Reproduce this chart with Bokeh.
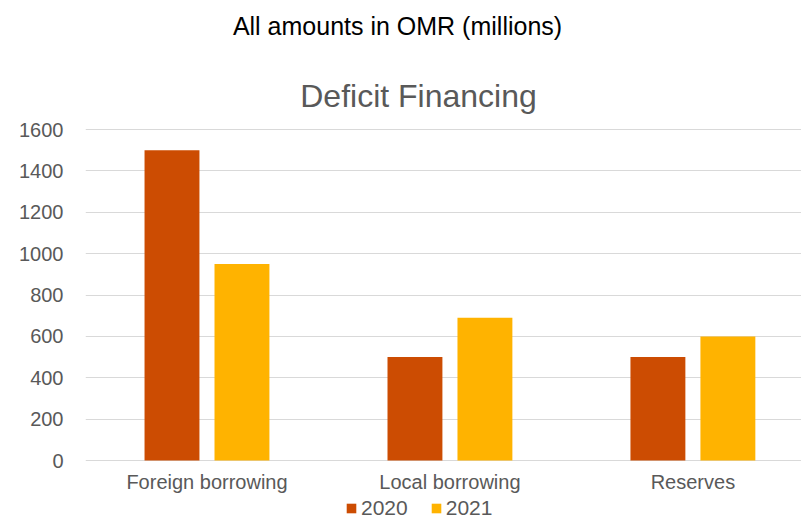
from bokeh.plotting import figure
from bokeh.models import (ColumnDataSource, Range1d, FixedTicker, Legend, LegendItem, Label)
from bokeh.transform import dodge
from bokeh.core.properties import value
from bokeh.embed import file_html
from bokeh.resources import INLINE

categories = ["Foreign borrowing", "Local borrowing", "Reserves"]
values_2020 = [1500, 500, 500]
values_2021 = [950, 690, 600]
series_names = ["2020", "2021"]
y_ticks = [0, 200, 400, 600, 800, 1000, 1200, 1400, 1600]

FONT = "Liberation Sans"
GRAY = "#595959"
C2020 = "#CC4C02"
C2021 = "#FFB300"

W, H = 801, 520
# layout (pixels): zero line and top gridline positions
ZERO_PX, TOP_PX = 460, 129
per_px = (y_ticks[-1] - y_ticks[0]) / (ZERO_PX - TOP_PX)
y_start = -(H - ZERO_PX) * per_px
y_end = y_ticks[-1] + TOP_PX * per_px

src = ColumnDataSource(dict(idx=list(range(len(categories))), cat=categories,
                            y2020=values_2020, y2021=values_2021,
                            base=[0] * len(categories)))

p = figure(width=W, height=H, output_backend="svg", toolbar_location=None,
           x_range=Range1d(-0.5, 2.447), y_range=Range1d(y_start, y_end),
           x_axis_location=None,
           min_border_left=85, min_border_right=0, min_border_top=0, min_border_bottom=0)
p.outline_line_color = None
p.background_fill_color = "white"
p.border_fill_color = "white"

r1 = p.vbar(x=dodge("idx", -0.144, range=p.x_range), top="y2020", width=0.226,
            source=src, fill_color=C2020, line_color=None)
r2 = p.vbar(x=dodge("idx", 0.144, range=p.x_range), top="y2021", width=0.226,
            source=src, fill_color=C2021, line_color=None)

# category labels under the zero line
p.text(x="idx", y="base", text="cat", source=src, y_offset=21,
       text_align="center", text_baseline="alphabetic",
       text_font=value(FONT), text_font_size="20px", text_color=GRAY)

p.yaxis.ticker = FixedTicker(ticks=y_ticks)
ax = p.yaxis[0]
ax.axis_line_color = None
ax.major_tick_line_color = None
ax.minor_tick_line_color = None
ax.major_label_text_color = GRAY
ax.major_label_text_font = FONT
ax.major_label_text_font_size = "20px"
ax.major_label_standoff = 16
p.xgrid.grid_line_color = None
p.ygrid.grid_line_color = "#d9d9d9"
p.ygrid.grid_line_width = 1

legend = Legend(items=[LegendItem(label=series_names[0], renderers=[r1]),
                       LegendItem(label=series_names[1], renderers=[r2])],
                orientation="horizontal", location=(260, 0),
                label_text_font=FONT, label_text_font_size="21px", label_text_color=GRAY,
                glyph_width=12, glyph_height=12, label_standoff=4, spacing=22,
                padding=0, margin=0, border_line_color=None, background_fill_alpha=0,
                label_height=18)
p.add_layout(legend)

t1 = Label(x=312, y=H - 25, x_units="screen", y_units="screen",
           text="All amounts in OMR (millions)",
           text_align="center", text_baseline="alphabetic", text_font=FONT,
           text_font_size="25px", text_color="black")
t2 = Label(x=333, y=H - 95, x_units="screen", y_units="screen", text="Deficit Financing",
           text_align="center", text_baseline="alphabetic", text_font=FONT,
           text_font_size="32px", text_color=GRAY)
p.add_layout(t1)
p.add_layout(t2)

open("out.html", "w").write(file_html(p, INLINE))
